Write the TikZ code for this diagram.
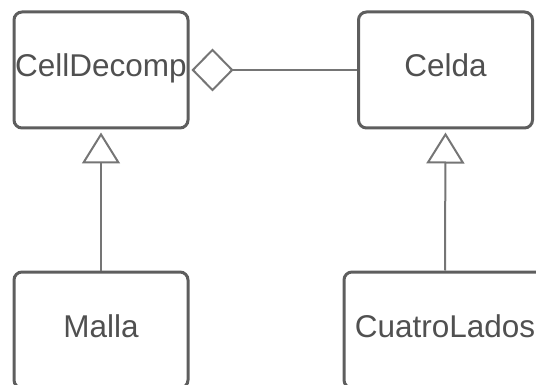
\documentclass[tikz,border=0pt]{standalone}
\usepackage{fontspec}
\setmainfont{Liberation Sans}
\usetikzlibrary{arrows.meta}
\definecolor{boxline}{HTML}{5E5E5E}
\definecolor{linkline}{HTML}{757575}
\definecolor{labeltext}{HTML}{505050}
\begin{document}
\begin{tikzpicture}[x=1pt,y=-1pt,
  classbox/.style={draw=boxline, line width=3pt, rounded corners=8pt,
    minimum width=174pt, minimum height=116pt, inner sep=0pt,
    text height=22pt, text depth=8pt,
    text=labeltext, font=\fontsize{31.5}{36}\selectfont},
  link/.style={draw=linkline, line width=2pt},
  inherit/.style={link, -{Triangle[open, length=31pt, width=38pt, line width=2pt]}, shorten >=3pt},
  aggregate/.style={link, -{Diamond[open, length=42pt, width=43pt, line width=2pt]}, shorten >=2pt}]
  \useasboundingbox (0,0) rectangle (536,385);
  \clip (0,0) rectangle (536,385);
  % classes
  \node[classbox] (cell)   at (101,70)  {CellDecomp};
  \node[classbox] (celda)  at (445.5,70) {Celda};
  \node[classbox] (malla)  at (101,330) {Malla};
  \node[classbox, minimum width=202pt] (cuatro) at (445,330) {CuatroLados};
  % aggregation
  \draw[aggregate] (celda.west) -- (cell.east);
  % generalisation
  \draw[inherit] (malla.north) -- (cell.south);
  \draw[inherit] (cuatro.north) -- (celda.south);
\end{tikzpicture}
\end{document}
